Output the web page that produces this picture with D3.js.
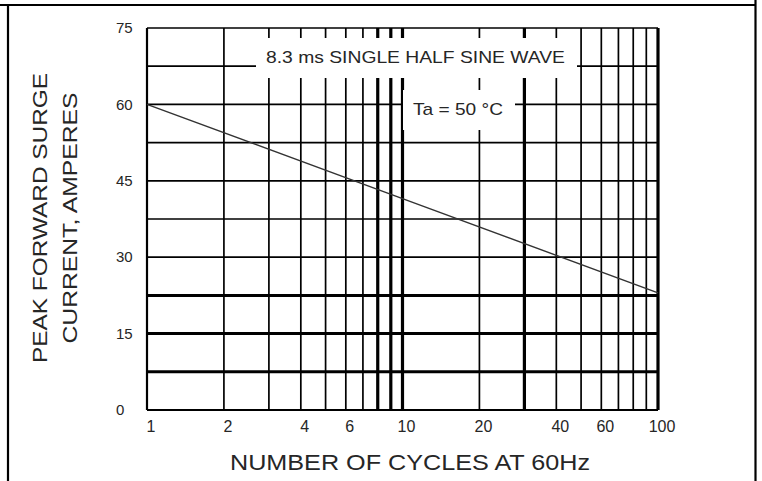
<!DOCTYPE html>
<html>
<head>
<meta charset="utf-8">
<script src="https://cdn.jsdelivr.net/npm/d3@7"></script>
<style>
  body { margin: 0; background: #fff; }
  text { font-family: Arial, "Liberation Sans", sans-serif; fill: #262626; }
</style>
</head>
<body>
<script>
// surge curve (cycles -> peak current, A)
var cycles  = [1, 10, 100];
var current = [60, 41.5, 23];

var xTicks = [1, 2, 4, 6, 10, 20, 40, 60, 100];
var yTicks = [0, 15, 30, 45, 60, 75];
var xGrid  = [1, 2, 3, 4, 5, 6, 7, 8, 9, 10, 20, 30, 40, 50, 60, 70, 80, 90, 100];
var yGrid  = [7.5, 15, 22.5, 30, 37.5, 45, 52.5, 60, 67.5, 75];
var xHeavy = [8, 9, 10, 30, 100];
var yHeavy = [7.5, 15, 22.5];

var W = 762, H = 481;
var plotL = 147, plotR = 658, plotT = 28, plotB = 410;

var svg = d3.select("body").append("svg").attr("width", W).attr("height", H);

// page frame
svg.append("line").attr("x1", 0).attr("x2", 756).attr("y1", 5).attr("y2", 5)
   .attr("stroke", "#000").attr("stroke-width", 2.2);
svg.append("line").attr("x1", 8).attr("x2", 8).attr("y1", 5).attr("y2", H)
   .attr("stroke", "#000").attr("stroke-width", 2.2);
svg.append("line").attr("x1", 755.5).attr("x2", 755.5).attr("y1", 0).attr("y2", H)
   .attr("stroke", "#000").attr("stroke-width", 2.2);

var x = d3.scaleLog().domain([1, 100]).range([plotL, plotR]);
var y = d3.scaleLinear().domain([0, 75]).range([plotB, plotT]);

var grid = svg.append("g");

grid.selectAll("line.v")
    .data(xGrid)
    .enter().append("line")
      .attr("class", "v")
      .attr("x1", function(d){ return x(d); })
      .attr("x2", function(d){ return x(d); })
      .attr("y1", y(0))
      .attr("y2", y(75))
      .attr("stroke", "#000")
      .attr("stroke-width", function(d){ return xHeavy.indexOf(d) >= 0 ? 3.2 : 1.7; });

grid.selectAll("line.h")
    .data(yGrid)
    .enter().append("line")
      .attr("class", "h")
      .attr("x1", x(1))
      .attr("x2", x(100))
      .attr("y1", function(d){ return y(d); })
      .attr("y2", function(d){ return y(d); })
      .attr("stroke", "#000")
      .attr("stroke-width", function(d){ return yHeavy.indexOf(d) >= 0 ? 3 : 1.7; });

// axis lines
grid.append("line").attr("x1", x(1)).attr("x2", x(100)).attr("y1", y(0)).attr("y2", y(0))
    .attr("stroke", "#000").attr("stroke-width", 2.2);
grid.append("line").attr("x1", x(1)).attr("x2", x(1)).attr("y1", y(0)).attr("y2", y(75))
    .attr("stroke", "#000").attr("stroke-width", 2.2);

// annotation boxes knock out the grid
function note(txt, cx, baseline, len) {
  var g = svg.append("g");
  var r = g.append("rect").attr("fill", "#fff");
  g.append("text")
    .attr("x", cx).attr("y", baseline)
    .attr("text-anchor", "middle")
    .attr("font-size", 17)
    .attr("textLength", len)
    .attr("lengthAdjust", "spacingAndGlyphs")
    .text(txt);
  r.attr("x", cx - len / 2 - 10).attr("width", len + 22)
   .attr("y", baseline - 25).attr("height", 40);
}
note("8.3 ms SINGLE HALF SINE WAVE", 415.5, 63, 299);
note("Ta = 50 \u00B0C", 458, 115, 90);

// surge curve
var pts = cycles.map(function(c, i){ return {c: c, a: current[i]}; });
var line = d3.line()
    .x(function(d){ return x(d.c); })
    .y(function(d){ return y(d.a); });

svg.append("path")
   .attr("fill", "none")
   .attr("stroke", "#333")
   .attr("stroke-width", 1.4)
   .attr("d", line(pts));

// tick labels
svg.selectAll("text.xt")
   .data(xTicks)
   .enter().append("text")
     .attr("class", "xt")
     .attr("x", function(d){ return x(d) + 4; })
     .attr("y", 432)
     .attr("text-anchor", "middle")
     .attr("font-size", 16)
     .text(function(d){ return d; });

svg.selectAll("text.yt")
   .data(yTicks)
   .enter().append("text")
     .attr("class", "yt")
     .attr("x", 116)
     .attr("y", function(d){ return y(d); })
     .attr("dy", "0.35em")
     .attr("font-size", 15)
     .text(function(d){ return d; });

// axis titles
svg.append("text")
   .attr("x", 410).attr("y", 470)
   .attr("text-anchor", "middle")
   .attr("font-size", 22)
   .attr("textLength", 360)
   .attr("lengthAdjust", "spacingAndGlyphs")
   .text("NUMBER OF CYCLES AT 60Hz");

svg.append("text")
   .attr("transform", "translate(47,218) rotate(-90)")
   .attr("text-anchor", "middle")
   .attr("font-size", 20)
   .attr("textLength", 290)
   .attr("lengthAdjust", "spacingAndGlyphs")
   .text("PEAK FORWARD SURGE");

svg.append("text")
   .attr("transform", "translate(77,218) rotate(-90)")
   .attr("text-anchor", "middle")
   .attr("font-size", 20)
   .attr("textLength", 251)
   .attr("lengthAdjust", "spacingAndGlyphs")
   .text("CURRENT, AMPERES");
</script>
</body>
</html>
